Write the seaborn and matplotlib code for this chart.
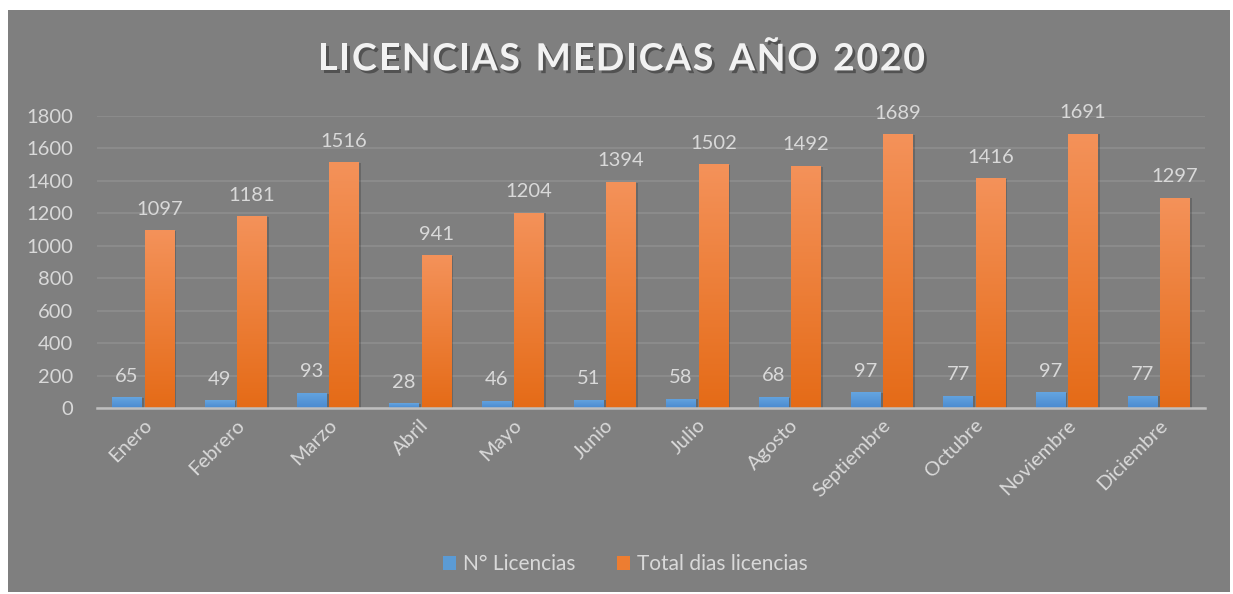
import numpy as np
import pandas as pd
import matplotlib.pyplot as plt
import seaborn as sns
from matplotlib.patches import Rectangle, Patch
import matplotlib.patheffects as pe

meses = ["Enero", "Febrero", "Marzo", "Abril", "Mayo", "Junio", "Julio",
         "Agosto", "Septiembre", "Octubre", "Noviembre", "Diciembre"]
n_licencias = [65, 49, 93, 28, 46, 51, 58, 68, 97, 77, 97, 77]
total_dias = [1097, 1181, 1516, 941, 1204, 1394, 1502, 1492, 1689, 1416, 1691, 1297]
series = ["N° Licencias", "Total dias licencias"]
y_ticks = [0, 200, 400, 600, 800, 1000, 1200, 1400, 1600, 1800]
titulo = "LICENCIAS MEDICAS AÑO 2020"

BG = "#7f7f7f"
TXT = "#d9d9d9"
BLUE = ("#65a5e0", "#4a8ad0")     # top, bottom
ORANGE = ("#f4925a", "#e56b17")

df = pd.DataFrame({
    "mes": meses * 2,
    "valor": n_licencias + total_dias,
    "serie": [series[0]] * len(meses) + [series[1]] * len(meses),
})

sns.set_theme(style="white")
plt.rcParams["font.family"] = ["Lato", "DejaVu Sans"]

W, H = 1233, 594
fig = plt.figure(figsize=(W / 100, H / 100), dpi=100)
fig.patch.set_facecolor("white")
fig.patches.append(Rectangle((8 / W, 2 / H), 1222 / W, 582 / H,
                             transform=fig.transFigure, facecolor=BG,
                             edgecolor="none", zorder=-10))

ax = fig.add_axes([97 / W, 186 / H, 1108 / W, 292 / H])
ax.set_facecolor("none")

sns.barplot(data=df, x="mes", y="valor", hue="serie", palette=[BLUE[1], ORANGE[1]],
            width=0.70, gap=0.1, legend=False, ax=ax)

# gradient fill + soft shadow on each bar
for i, cont in enumerate(ax.containers):
    top, bot = BLUE if i == 0 else ORANGE
    cmap = sns.blend_palette([bot, top], as_cmap=True)
    grad = np.linspace(0, 1, 256).reshape(-1, 1)
    for bar in cont:
        x0, w, h = bar.get_x(), bar.get_width(), bar.get_height()
        ax.add_patch(Rectangle((x0 + 0.025, 0), w, h - 4, facecolor="black",
                               alpha=0.18, edgecolor="none", zorder=1))
        im = ax.imshow(grad, extent=(x0, x0 + w, 0, h), origin="lower",
                       cmap=cmap, aspect="auto", zorder=2)
        im.set_clip_path(bar)
        bar.set_facecolor("none")
        bar.set_edgecolor("none")
    ax.bar_label(cont, labels=[str(v) for v in (n_licencias if i == 0 else total_dias)],
                 padding=9, color=TXT, fontsize=14.5)

ax.set_xlim(-0.5, len(meses) - 0.5)
ax.set_ylim(0, 1800)
ax.set_yticks(y_ticks)
ax.yaxis.grid(True, color="#8e8e8e", linewidth=1.2)
ax.set_axisbelow(True)
for s in ["top", "right", "left"]:
    ax.spines[s].set_visible(False)
ax.spines["bottom"].set_color("#bfbfbf")
ax.spines["bottom"].set_linewidth(1.8)
ax.spines["bottom"].set_zorder(3)
ax.tick_params(axis="both", length=0, colors=TXT, labelsize=14.5)
ax.tick_params(axis="y", pad=17)
ax.tick_params(axis="x", pad=6)
plt.setp(ax.get_xticklabels(), rotation=45, ha="right", rotation_mode="anchor")
ax.set_xlabel("")
ax.set_ylabel("")

# title with letter spacing: place characters one by one
renderer = fig.canvas.get_renderer()
shadow = [pe.withSimplePatchShadow(offset=(2, -2), shadow_rgbFace="black", alpha=0.35)]
chars = []
widths = []
for c in titulo:
    t = fig.text(0, 0.90, c if c != " " else "I", fontsize=27, fontweight="bold",
                 color="#f2f2f2", va="center", ha="left", path_effects=shadow)
    w = t.get_window_extent(renderer).width
    if c == " ":
        t.set_text("")
        w *= 1.1
    chars.append(t)
    widths.append(w)
target_left, target_right = 318, 925
track = (target_right - target_left - sum(widths)) / (len(titulo) - 1)
x = target_left
for t, w in zip(chars, widths):
    t.set_x(x / W)
    x += w + track

handles = [Patch(facecolor="#5b9bd5", edgecolor="none"),
           Patch(facecolor="#ed7d31", edgecolor="none")]
leg = fig.legend(handles, series, loc="center", bbox_to_anchor=(0.507, 0.05),
                 ncol=2, frameon=False, fontsize=15, handlelength=0.65,
                 handleheight=0.65, handletextpad=0.3, columnspacing=2.0)
for t in leg.get_texts():
    t.set_color(TXT)

fig.savefig("out.png", dpi=100, facecolor=fig.get_facecolor())
